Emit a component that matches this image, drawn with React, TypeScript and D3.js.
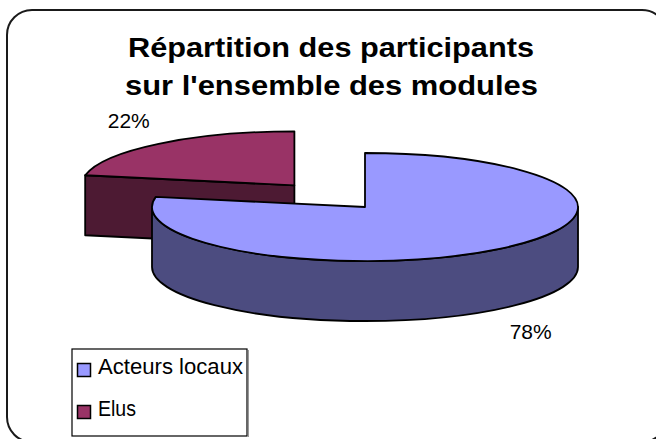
import React from "react";
import * as d3 from "d3";

const categories = ["Acteurs locaux", "Elus"];
const values = [78, 22];
const labels = ["78%", "22%"];
const topColors = ["#9999FF", "#993366"];
const sideColors = ["#4C4C80", "#4D1A33"];
const explode = [0, 0.52];
const titleLines = ["Répartition des participants", "sur l'ensemble des modules"];

const W = 656;
const H = 439;
const cx = 365;
const cy = 207;
const rx = 213;
const ry = 54;
const depth = 60;
const FONT = "Arial, 'Liberation Sans', sans-serif";

export default function App() {
  const pie = d3.pie<number>().sort(null).value((d) => d);
  const arcs = pie(values);

  const pt = (ox: number, oy: number, a: number, dy = 0): [number, number] => [
    ox + rx * Math.sin(a),
    oy - ry * Math.cos(a) + dy,
  ];
  const f = (p: [number, number]) => `${p[0].toFixed(2)},${p[1].toFixed(2)}`;

  const slices = arcs.map((a, i) => {
    const m = (a.startAngle + a.endAngle) / 2;
    const ox = cx + explode[i] * rx * Math.sin(m);
    const oy = cy - explode[i] * ry * Math.cos(m);
    const topArc = d3.arc<any>().innerRadius(0).outerRadius(rx)(a as any) || "";
    const s0 = Math.max(a.startAngle, Math.PI / 2);
    const s1 = Math.min(a.endAngle, (3 * Math.PI) / 2);
    let side = "";
    if (s1 > s0) {
      const large = s1 - s0 > Math.PI ? 1 : 0;
      side =
        `M${f(pt(ox, oy, s0))} A${rx},${ry} 0 ${large} 1 ${f(pt(ox, oy, s1))}` +
        ` L${f(pt(ox, oy, s1, depth))} A${rx},${ry} 0 ${large} 0 ${f(pt(ox, oy, s0, depth))} Z`;
    }
    const faces: string[] = [];
    if (Math.sin(a.startAngle) < -1e-6) {
      const p = pt(ox, oy, a.startAngle);
      faces.push(`M${ox},${oy} L${f(p)} L${f([p[0], p[1] + depth])} L${ox},${oy + depth} Z`);
    }
    if (Math.sin(a.endAngle) > 1e-6) {
      const p = pt(ox, oy, a.endAngle);
      faces.push(`M${ox},${oy} L${f(p)} L${f([p[0], p[1] + depth])} L${ox},${oy + depth} Z`);
    }
    const lx = ox + 1.22 * rx * Math.sin(m);
    const ly = oy - 1.56 * ry * Math.cos(m) + (Math.cos(m) < 0 ? depth : 0);
    return { i, ox, oy, topArc, side, faces, lx, ly };
  });

  const order = [...slices].sort((a, b) => a.oy - b.oy);

  return (
    <svg width={W} height={H} style={{ position: "absolute", left: 0, top: 0, background: "#fff" }}>
      <rect x={7} y={10} width={660} height={432} rx={25} ry={25} fill="#fff" stroke="#1a1a1a" strokeWidth={2} />
      {titleLines.map((t, k) => (
        <text
          key={k}
          x={k === 0 ? 128 : 125}
          y={k === 0 ? 57 : 95}
          textLength={k === 0 ? 406 : 413}
          lengthAdjust="spacingAndGlyphs"
          fontFamily={FONT}
          fontWeight="bold"
          fontSize={27}
          fill="#000"
        >
          {t}
        </text>
      ))}
      {order.map((s) => (
        <g key={s.i} stroke="#000" strokeWidth={1.8} strokeLinejoin="round">
          {s.faces.map((d, k) => (
            <path key={k} d={d} fill={sideColors[s.i]} />
          ))}
          {s.side && <path d={s.side} fill={sideColors[s.i]} />}
          <path
            d={s.topArc}
            fill={topColors[s.i]}
            transform={`translate(${s.ox},${s.oy}) scale(1,${ry / rx})`}
            vectorEffect="non-scaling-stroke"
          />
        </g>
      ))}
      {slices.map((s) => (
        <text
          key={"l" + s.i}
          x={s.lx}
          y={s.ly + 7.5}
          textAnchor="middle"
          fontFamily={FONT}
          fontSize={21}
          fill="#000"
        >
          {labels[s.i]}
        </text>
      ))}
      <g>
        <line x1={248.5} y1={350} x2={248.5} y2={437} stroke="#999" strokeWidth={1} />
        <rect x={72} y={349} width={175} height={87} fill="#fff" stroke="#000" strokeWidth={1.2} />
        {categories.map((c, i) => (
          <g key={c}>
            <rect x={77.5} y={i === 0 ? 363.5 : 405.5} width={13} height={13} fill={topColors[i]} stroke="#000" strokeWidth={1.5} />
            <text
              x={98}
              y={i === 0 ? 374 : 416}
              fontFamily={FONT}
              fontSize={22}
              textLength={i === 0 ? 145 : 38}
              lengthAdjust="spacingAndGlyphs"
              fill="#000"
            >
              {c}
            </text>
          </g>
        ))}
      </g>
    </svg>
  );
}
